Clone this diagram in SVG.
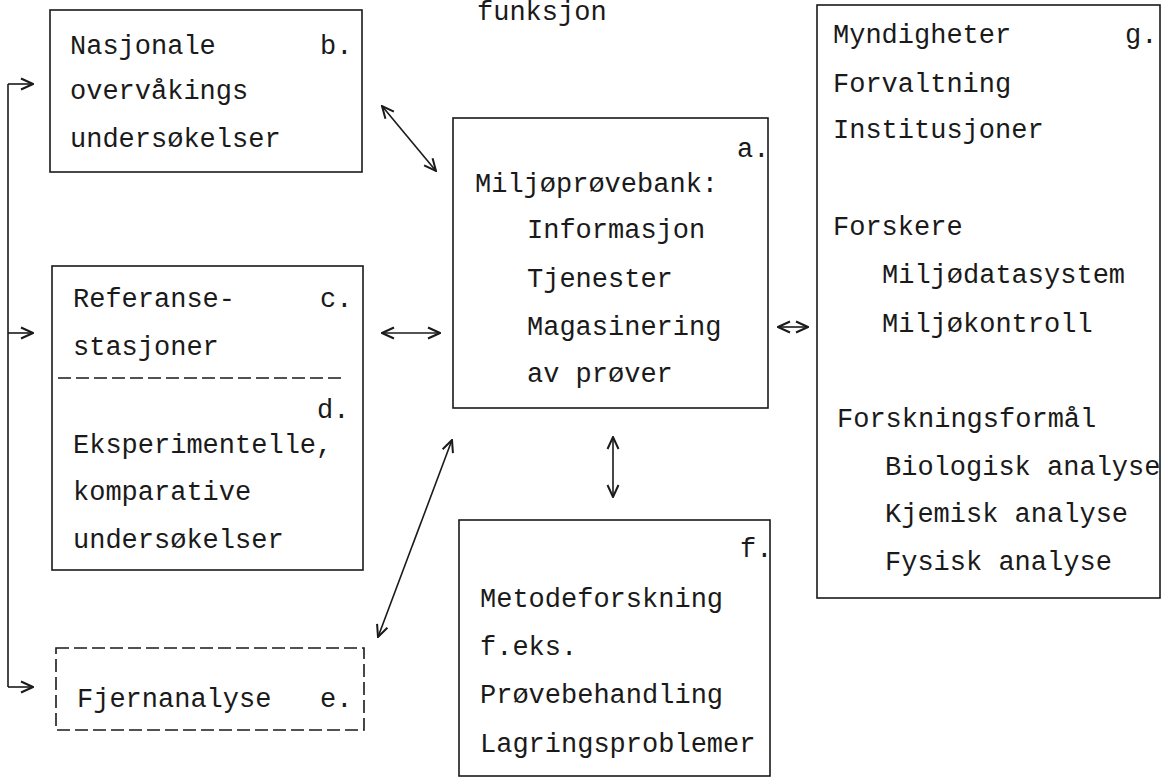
<svg xmlns="http://www.w3.org/2000/svg" width="1171" height="778" viewBox="0 0 1171 778">
<style>
text{font-family:"Liberation Mono","Courier New",monospace;font-size:27px;fill:#1a1a1a}
.box{fill:none;stroke:#1a1a1a;stroke-width:1.6}
.dash{stroke-dasharray:13,5}
.con{fill:none;stroke:#1a1a1a;stroke-width:1.6}
.arr{marker-end:url(#ah)}
.bi{marker-start:url(#ah);marker-end:url(#ah)}
</style>
<defs>
<marker id="ah" viewBox="0 0 14 14" refX="13" refY="7" markerWidth="14" markerHeight="14" markerUnits="userSpaceOnUse" orient="auto-start-reverse">
<path d="M1,1.5 L13,7 L1,12.5" fill="none" stroke="#1a1a1a" stroke-width="2"/>
</marker>
</defs>
<rect width="1171" height="778" fill="#fff"/>
<text x="477" y="20">funksjon</text>
<g id="node-b">
<rect class="box" x="50" y="10" width="312" height="162"/>
<text x="70" y="54">Nasjonale</text>
<text x="320" y="54">b.</text>
<text x="70" y="99">overvåkings</text>
<text x="70" y="147">undersøkelser</text>
</g>
<g id="node-cd">
<rect class="box" x="52" y="266" width="311" height="304"/>
<text x="73" y="307">Referanse-</text>
<text x="320" y="307">c.</text>
<text x="73" y="355">stasjoner</text>
<line class="box dash" x1="58" y1="378" x2="345" y2="378"/>
<text x="317" y="418">d.</text>
<text x="73" y="453">Eksperimentelle,</text>
<text x="73" y="500">komparative</text>
<text x="73" y="548">undersøkelser</text>
</g>
<g id="node-e">
<rect class="box dash" x="56" y="648" width="308" height="82"/>
<text x="77" y="707">Fjernanalyse</text>
<text x="320" y="707">e.</text>
</g>
<g id="node-a">
<rect class="box" x="453" y="118" width="315" height="290"/>
<text x="737" y="157">a.</text>
<text x="475" y="192">Miljøprøvebank:</text>
<text x="527" y="238">Informasjon</text>
<text x="527" y="287">Tjenester</text>
<text x="527" y="335">Magasinering</text>
<text x="527" y="382">av prøver</text>
</g>
<g id="node-f">
<rect class="box" x="459" y="520" width="311" height="256"/>
<text x="740" y="557">f.</text>
<text x="480" y="607">Metodeforskning</text>
<text x="480" y="655">f.eks.</text>
<text x="480" y="703">Prøvebehandling</text>
<text x="480" y="752">Lagringsproblemer</text>
</g>
<g id="node-g">
<rect class="box" x="817" y="5" width="343" height="593"/>
<text x="833" y="43">Myndigheter</text>
<text x="1125" y="43">g.</text>
<text x="833" y="92">Forvaltning</text>
<text x="833" y="138">Institusjoner</text>
<text x="833" y="235">Forskere</text>
<text x="882" y="283">Miljødatasystem</text>
<text x="882" y="332">Miljøkontroll</text>
<text x="837" y="427">Forskningsformål</text>
<text x="885" y="475">Biologisk analyse</text>
<text x="885" y="522">Kjemisk analyse</text>
<text x="885" y="570">Fysisk analyse</text>
</g>
<g id="connectors">
<path class="con" d="M8,687 L8,84"/>
<path class="con arr" d="M8,84 L33,84"/>
<path class="con arr" d="M8,333 L33,333"/>
<path class="con arr" d="M8,687 L33,687"/>
<line class="con bi" x1="382" y1="106" x2="436" y2="171"/>
<line class="con bi" x1="382" y1="333" x2="440" y2="333"/>
<line class="con bi" x1="378" y1="637" x2="452" y2="440"/>
<line class="con bi" x1="613" y1="437" x2="613" y2="497"/>
<line class="con bi" x1="778" y1="327" x2="808" y2="327"/>
</g>
</svg>
